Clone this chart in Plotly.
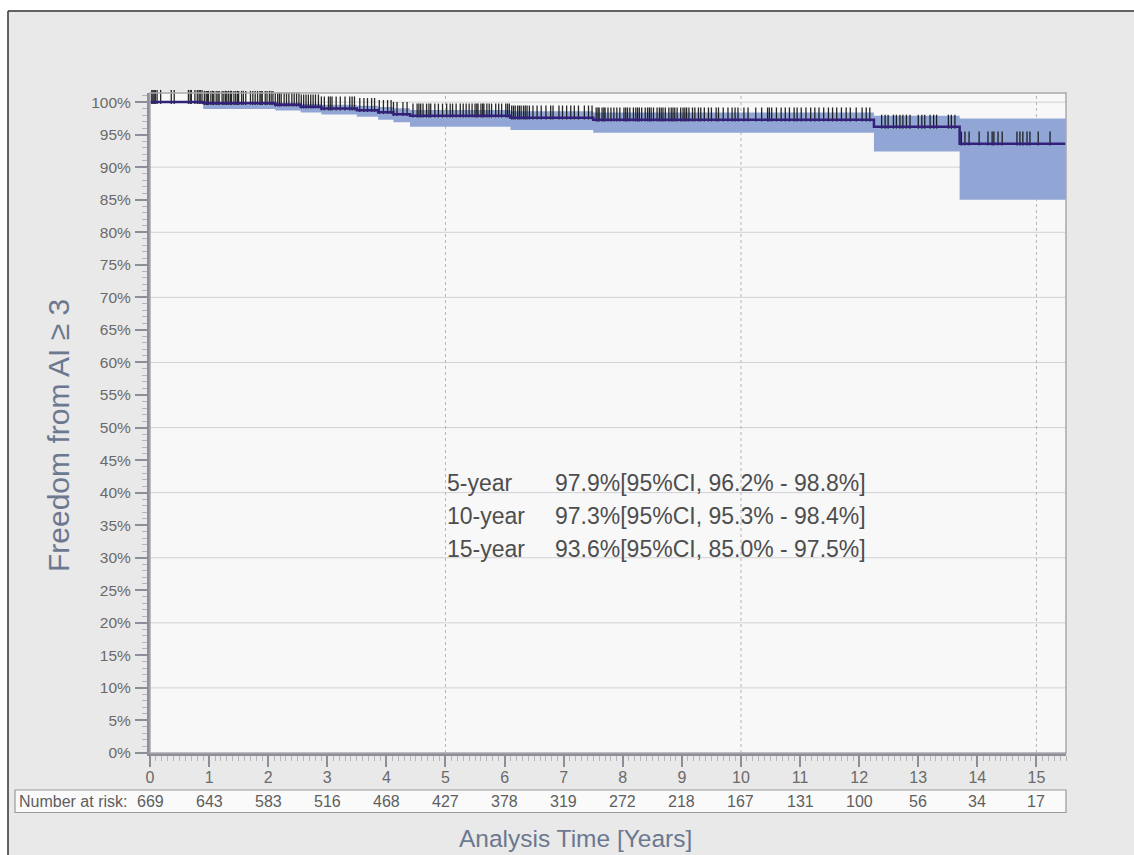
import bisect
import plotly.graph_objects as go

# Kaplan-Meier estimate (percent) with 95% confidence limits, step starts in years
event_years = [0.0, 0.9, 2.12, 2.55, 2.9, 3.5, 3.86, 4.12, 4.4, 6.1, 7.5, 12.25, 13.7, 15.5]
survival = [100, 99.85, 99.6, 99.3, 99.0, 98.75, 98.45, 98.15, 97.9, 97.6, 97.3, 96.2, 93.6, 93.6]
ci_low = [100, 98.95, 98.7, 98.4, 98.1, 97.75, 97.3, 96.9, 96.2, 95.7, 95.3, 92.4, 85.0, 85.0]
ci_high = [100, 99.98, 99.9, 99.75, 99.6, 99.45, 99.25, 99.05, 98.8, 98.6, 98.4, 97.9, 97.5, 97.5]

# Censoring times (years)
censor_years = [
    0.03, 0.05, 0.07, 0.09, 0.12, 0.18, 0.36, 0.41, 0.65, 0.68, 0.70, 0.76, 0.80, 0.83, 0.85,
    0.88, 0.92, 0.95, 0.97, 0.99,
    1.03, 1.06, 1.08, 1.12, 1.15, 1.17, 1.22, 1.25, 1.28, 1.30, 1.33, 1.36, 1.38, 1.42, 1.45,
    1.48, 1.50, 1.55, 1.58, 1.62, 1.70, 1.74, 1.78, 1.82, 1.86, 1.88, 1.90, 1.95, 1.98,
    2.02, 2.05, 2.08, 2.12, 2.16, 2.19, 2.22, 2.27, 2.31, 2.35, 2.40, 2.44, 2.48, 2.52, 2.56,
    2.60, 2.64, 2.68, 2.72, 2.76, 2.80, 2.85, 2.90, 2.95,
    3.02, 3.05, 3.08, 3.15, 3.22, 3.30, 3.38, 3.42, 3.46, 3.55, 3.62, 3.68, 3.75, 3.80, 3.88,
    3.95,
    4.02, 4.08, 4.12, 4.18, 4.28, 4.35, 4.45, 4.52, 4.55, 4.58, 4.62, 4.68, 4.72, 4.75, 4.82,
    4.88, 4.95,
    5.02, 5.08, 5.12, 5.18, 5.25, 5.30, 5.35, 5.40, 5.45, 5.50, 5.53, 5.55, 5.60, 5.63, 5.65,
    5.70, 5.74, 5.78, 5.85, 5.90, 5.95,
    6.02, 6.05, 6.08, 6.12, 6.15, 6.18, 6.22, 6.25, 6.28, 6.32, 6.35, 6.38, 6.42, 6.48, 6.55,
    6.62, 6.70, 6.78, 6.82, 6.92, 6.98,
    7.05, 7.12, 7.18, 7.25, 7.35, 7.42, 7.48, 7.55, 7.58, 7.60, 7.65, 7.68, 7.70, 7.75, 7.80,
    7.85, 7.90, 7.95,
    8.02, 8.05, 8.08, 8.12, 8.18, 8.22, 8.25, 8.28, 8.32, 8.38, 8.42, 8.45, 8.48, 8.52, 8.58,
    8.62, 8.65, 8.68, 8.72, 8.78, 8.82, 8.85, 8.88, 8.92, 8.98,
    9.02, 9.05, 9.08, 9.12, 9.18, 9.22, 9.28, 9.32, 9.38, 9.45, 9.50, 9.58, 9.62, 9.70, 9.78,
    9.85, 9.90, 9.95,
    10.05, 10.12, 10.25, 10.35, 10.45, 10.48, 10.52, 10.60, 10.68, 10.75, 10.82, 10.90, 10.95,
    11.02, 11.10, 11.18, 11.25, 11.32, 11.40, 11.48, 11.55, 11.62, 11.70, 11.78, 11.85, 11.95,
    12.05, 12.12, 12.18,
    12.38, 12.44, 12.49, 12.58, 12.63, 12.69, 12.74, 12.80, 12.86, 13.00, 13.06, 13.11, 13.20,
    13.26, 13.31, 13.51, 13.56, 13.62,
    13.73, 13.79, 13.86, 14.03, 14.18, 14.25, 14.28, 14.35, 14.42, 14.67, 14.72, 14.77, 14.84,
    14.89, 15.03, 15.23,
]

# Number at risk at each whole year
risk_years = list(range(16))
at_risk = [669, 643, 583, 516, 468, 427, 378, 319, 272, 218, 167, 131, 100, 56, 34, 17]

# Estimates quoted in the text block
summary_labels = ["5-year", "10-year", "15-year"]
summary_values = [
    "97.9%[95%CI, 96.2% - 98.8%]",
    "97.3%[95%CI, 95.3% - 98.4%]",
    "93.6%[95%CI, 85.0% - 97.5%]",
]

gridline_pcts = [10, 20, 30, 40, 50, 60, 70, 80, 90, 100]
gridline_years = [5, 10, 15]

# Page geometry (pixels)
W, H = 1134, 855
L, R, T, B = 150, 1066, 93, 753


def px(xp):
    return (xp - L) / (R - L)


def py(yp):
    return (B - yp) / (B - T)


def surv_at(t):
    i = bisect.bisect_right(event_years, t) - 1
    return survival[max(i, 0)]


FONT = "Liberation Sans, Arial, sans-serif"
BAND = "#92a6d6"
LINE = "#33207a"
AXIS = "#8e8e98"

fig = go.Figure()

# Confidence band
fig.add_trace(go.Scatter(x=event_years, y=ci_high, mode="lines", line=dict(width=0, shape="hv"),
                         hoverinfo="skip", showlegend=False))
fig.add_trace(go.Scatter(x=event_years, y=ci_low, mode="lines", line=dict(width=0, shape="hv"),
                         fill="tonexty", fillcolor=BAND, hoverinfo="skip", showlegend=False))

# Censoring marks
fig.add_trace(go.Scatter(
    x=censor_years, y=[surv_at(t) + 0.8 for t in censor_years], mode="markers",
    marker=dict(symbol="line-ns", size=10, line=dict(width=1.3, color="rgba(15,15,15,0.9)")),
    cliponaxis=False, hoverinfo="skip", showlegend=False))

# Survival curve
fig.add_trace(go.Scatter(x=event_years, y=survival, mode="lines",
                         line=dict(color=LINE, width=2.5, shape="hv"),
                         hoverinfo="skip", showlegend=False))

shapes = []
for g in gridline_pcts:
    shapes.append(dict(type="line", xref="paper", yref="y", x0=0, x1=1, y0=g, y1=g,
                       line=dict(color="#d2d2d6", width=1), layer="below"))
for g in gridline_years:
    shapes.append(dict(type="line", xref="x", yref="paper", x0=g, x1=g, y0=0, y1=1,
                       line=dict(color="#b4b4b8", width=1, dash="dot"), layer="below"))
# plot frame
shapes.append(dict(type="rect", xref="paper", yref="paper", x0=0, x1=1, y0=0, y1=1,
                   line=dict(color="#a8a8ae", width=1.5), layer="above"))
# number-at-risk box
shapes.append(dict(type="rect", xref="paper", yref="paper", x0=px(15), x1=px(1066),
                   y0=py(812.5), y1=py(790), fillcolor="#fafafa",
                   line=dict(color="#9a9aa0", width=1.2), layer="below"))
# page edges
shapes.append(dict(type="rect", xref="paper", yref="paper", x0=px(0), x1=px(W),
                   y0=py(10.5), y1=py(0), fillcolor="white", line=dict(width=0), layer="above"))
shapes.append(dict(type="rect", xref="paper", yref="paper", x0=px(0), x1=px(7.5),
                   y0=py(H), y1=py(0), fillcolor="white", line=dict(width=0), layer="above"))
shapes.append(dict(type="line", xref="paper", yref="paper", x0=px(8), x1=px(W),
                   y0=py(11), y1=py(11), line=dict(color="#333333", width=1.5), layer="above"))
shapes.append(dict(type="line", xref="paper", yref="paper", x0=px(8), x1=px(8),
                   y0=py(11), y1=py(H), line=dict(color="#333333", width=1.5), layer="above"))

annotations = []
annotations.append(dict(xref="paper", yref="paper", x=px(17), y=py(801.5), xanchor="left",
                        yanchor="middle", text="Number at risk:", showarrow=False,
                        font=dict(family=FONT, size=16, color="#5e5e5e")))
for yr, n in zip(risk_years, at_risk):
    annotations.append(dict(xref="x", yref="paper", x=yr, y=py(801.5), xanchor="center",
                            yanchor="middle", text=str(n), showarrow=False,
                            font=dict(family=FONT, size=16, color="#5e5e5e")))

for k, (lab, val) in enumerate(zip(summary_labels, summary_values)):
    ypix = 483 + k * 33
    annotations.append(dict(xref="paper", yref="paper", x=px(445), y=py(ypix), xanchor="left",
                            yanchor="middle", text=lab, showarrow=False,
                            font=dict(family=FONT, size=23, color="#4e4e4e")))
    annotations.append(dict(xref="paper", yref="paper", x=px(553), y=py(ypix), xanchor="left",
                            yanchor="middle", text=val, showarrow=False,
                            font=dict(family=FONT, size=23, color="#4e4e4e")))

annotations.append(dict(xref="paper", yref="paper", x=px(575), y=py(838), xanchor="center",
                        yanchor="middle", text="Analysis Time [Years]", showarrow=False,
                        font=dict(family=FONT, size=24.5, color="#6b7890")))
annotations.append(dict(xref="paper", yref="paper", x=px(58), y=py(436), xanchor="center",
                        yanchor="middle", text="Freedom from AI ≥ 3", textangle=-90,
                        showarrow=False, font=dict(family=FONT, size=30, color="#6b7890")))

fig.update_layout(
    width=W, height=H,
    margin=dict(l=L, r=W - R, t=T, b=H - B, pad=0),
    paper_bgcolor="#e9e9e9",
    plot_bgcolor="#f8f8f8",
    showlegend=False,
    shapes=shapes,
    annotations=annotations,
    xaxis=dict(
        range=[0, 15.5], tick0=0, dtick=1, showgrid=False, zeroline=False,
        showline=True, linewidth=3, linecolor=AXIS,
        ticks="outside", ticklen=11, tickwidth=2, tickcolor=AXIS,
        ticklabelstandoff=-3,
        tickfont=dict(family=FONT, size=16, color="#6a6a6a"),
        minor=dict(dtick=0.1, ticks="outside", ticklen=5, tickwidth=1, tickcolor="#b4b4ba",
                   showgrid=False),
    ),
    yaxis=dict(
        range=[0, 101.4], tick0=0, dtick=5, ticksuffix="%", showgrid=False, zeroline=False,
        showline=True, linewidth=3, linecolor=AXIS,
        ticks="outside", ticklen=12, tickwidth=2, tickcolor=AXIS,
        ticklabelstandoff=1,
        tickfont=dict(family=FONT, size=15.5, color="#6a6a6a"),
        minor=dict(dtick=1, ticks="outside", ticklen=5, tickwidth=1, tickcolor="#b4b4ba",
                   showgrid=False),
    ),
)

fig.write_html("out.html")
